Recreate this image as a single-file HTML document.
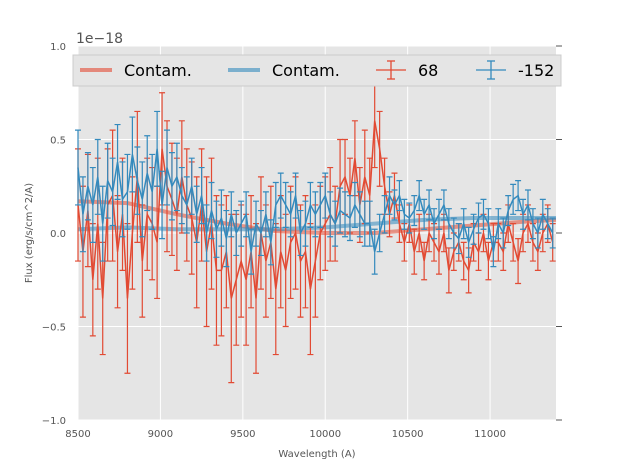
<!DOCTYPE html>
<html><head><meta charset="utf-8"><style>
body{margin:0;background:#fff;font-family:"DejaVu Sans",sans-serif;}
svg text{font-family:"DejaVu Sans",sans-serif;}
</style></head><body>
<svg id="chart" width="617" height="467" xmlns="http://www.w3.org/2000/svg">
<rect x="78" y="46" width="478" height="374" fill="#e5e5e5"/>
<g id="grid"></g><g id="marks"></g><g id="axes"></g>
<text x="76" y="43" font-size="14" fill="#555">1e−18</text>
<text x="317" y="457" font-size="10" fill="#555" text-anchor="middle">Wavelength (A)</text>
<text x="32" y="233" font-size="10" fill="#555" text-anchor="middle" transform="rotate(-90 32 233)">Flux (erg/s/cm^2/A)</text>
<g>
<rect x="73" y="55" width="488" height="31" fill="#e5e5e5" stroke="#ccc"/>
<line x1="80" y1="70" x2="112" y2="70" stroke="#E24A33" stroke-opacity="0.6" stroke-width="4"/>
<text x="124" y="76" font-size="16" fill="#000">Contam.</text>
<line x1="228" y1="70" x2="260" y2="70" stroke="#348ABD" stroke-opacity="0.6" stroke-width="4"/>
<text x="272" y="76" font-size="16" fill="#000">Contam.</text>
<g stroke="#E24A33" stroke-width="1.3"><line x1="376" y1="70" x2="406" y2="70"/><line x1="391" y1="61" x2="391" y2="79"/><line x1="387" y1="61" x2="395" y2="61"/><line x1="387" y1="79" x2="395" y2="79"/></g>
<text x="418" y="76" font-size="16" fill="#000">68</text>
<g stroke="#348ABD" stroke-width="1.3"><line x1="476" y1="70" x2="506" y2="70"/><line x1="491" y1="61" x2="491" y2="79"/><line x1="487" y1="61" x2="495" y2="61"/><line x1="487" y1="79" x2="495" y2="79"/></g>
<text x="518" y="76" font-size="16" fill="#000">-152</text>
</g>
</svg>
<script>
const wavelengths=[];for(let w=8500;w<=11380;w+=30)wavelengths.push(w);
const redValues=[0.15,-0.1,0.12,-0.25,0.05,-0.35,0.15,0.2,-0.1,0.1,-0.35,
0.0,0.3,-0.15,0.1,0.05,-0.05,0.45,0.25,0.18,0.1,
0.3,0.15,0.08,-0.05,0.15,-0.1,0.05,-0.2,-0.2,-0.1,
-0.35,-0.25,-0.15,-0.25,-0.1,-0.35,0.0,-0.15,-0.05,-0.3,
-0.1,-0.2,-0.05,0.0,-0.15,-0.1,-0.3,-0.15,0.0,0.05,
0.1,0.05,0.25,0.3,0.2,0.4,0.15,0.3,0.2,0.6,
0.45,0.25,0.1,0.2,0.05,-0.05,0.05,-0.1,0.0,-0.15,
0.0,-0.05,-0.1,0.0,-0.2,-0.1,-0.05,-0.15,-0.2,-0.05,
-0.1,0.0,-0.15,-0.05,-0.05,-0.1,0.05,-0.05,-0.15,0.0,
0.05,-0.05,-0.1,0.0,0.05,-0.05];
const redErrors=[0.3,0.35,0.3,0.3,0.35,0.3,0.3,0.35,0.3,0.3,0.4,
0.3,0.35,0.3,0.3,0.3,0.3,0.3,0.35,0.3,0.3,
0.3,0.3,0.3,0.35,0.3,0.4,0.35,0.4,0.35,0.3,
0.45,0.35,0.3,0.35,0.3,0.4,0.3,0.3,0.3,0.35,
0.3,0.3,0.3,0.3,0.3,0.3,0.35,0.3,0.25,0.25,
0.25,0.2,0.25,0.2,0.2,0.2,0.2,0.25,0.2,0.25,
0.2,0.15,0.12,0.12,0.1,0.1,0.1,0.12,0.1,0.1,
0.1,0.1,0.12,0.1,0.12,0.1,0.1,0.1,0.12,0.1,
0.1,0.1,0.1,0.1,0.1,0.1,0.1,0.1,0.12,0.1,
0.1,0.1,0.1,0.1,0.1,0.1];
const blueValues=[0.35,0.1,0.25,0.15,0.3,0.05,0.28,0.22,0.38,0.18,0.22,
0.42,0.28,0.18,0.32,0.22,0.45,0.15,0.35,0.25,0.3,
0.2,0.15,0.25,0.1,0.2,0.0,0.12,0.02,0.08,-0.03,
0.1,0.0,0.05,0.1,-0.1,0.05,0.0,0.1,-0.05,0.15,
0.2,0.15,0.1,0.2,0.0,0.05,0.15,0.1,0.15,0.2,
0.1,0.05,0.12,0.1,0.08,0.15,0.1,0.05,0.05,-0.1,
0.0,0.1,0.2,0.15,0.2,0.1,0.08,0.12,0.2,0.1,
0.15,0.05,0.1,0.15,0.05,0.0,-0.03,0.05,-0.05,0.02,
0.08,0.1,0.05,-0.1,0.05,0.0,0.12,0.18,0.2,0.1,
0.15,0.05,0.0,0.1,0.05,0.0];
const blueErrors=[0.2,0.2,0.18,0.2,0.2,0.2,0.2,0.18,0.2,0.2,0.2,
0.2,0.18,0.2,0.2,0.2,0.2,0.18,0.2,0.18,0.18,
0.15,0.15,0.15,0.15,0.15,0.15,0.15,0.15,0.15,0.15,
0.12,0.12,0.12,0.12,0.12,0.12,0.12,0.12,0.12,0.12,
0.12,0.12,0.12,0.12,0.12,0.12,0.12,0.12,0.12,0.12,
0.12,0.12,0.12,0.12,0.12,0.12,0.12,0.12,0.12,0.12,
0.1,0.1,0.1,0.08,0.08,0.08,0.08,0.08,0.08,0.08,
0.08,0.08,0.08,0.08,0.08,0.08,0.08,0.08,0.08,0.08,
0.08,0.08,0.08,0.08,0.08,0.08,0.08,0.08,0.08,0.08,
0.08,0.08,0.08,0.08,0.08,0.08];
const contamWave=[8500,8800,9100,9400,9700,10000,10300,10600,10900,11200,11400];
const contamRed=[0.17,0.16,0.1,0.05,0.01,0.0,0.0,0.02,0.04,0.06,0.07];
const contamBlue=[0.02,0.03,0.02,0.02,0.02,0.03,0.05,0.07,0.08,0.08,0.08];
const xTicks=[8500,9000,9500,10000,10500,11000];
const yTicks=[-1.0,-0.5,0.0,0.5,1.0];
const yTickLabels=["−1.0","−0.5","0.0","0.5","1.0"];

const NS="http://www.w3.org/2000/svg";
const X=w=>78+(w-8500)*(478/2900);
const Y=v=>233-v*187;
function mk(tag,attrs,parent){const e=document.createElementNS(NS,tag);for(const k in attrs)e.setAttribute(k,attrs[k]);parent.appendChild(e);return e;}
const grid=document.getElementById('grid'),marks=document.getElementById('marks'),axes=document.getElementById('axes');
xTicks.forEach(t=>{
 const g=mk('line',{x1:X(t),x2:X(t),y1:46,y2:420,stroke:'#fff','stroke-width':1},grid);
 
 const l=mk('text',{x:X(t),y:437,'font-size':10,fill:'#555','text-anchor':'middle'},axes);l.textContent=t;
 
});
yTicks.forEach((t,i)=>{
 const g=mk('line',{x1:78,x2:556,y1:Y(t),y2:Y(t),stroke:'#fff','stroke-width':1},grid);
 
 const k=mk('line',{x1:556,x2:562,y1:Y(t),y2:Y(t),stroke:'#555'},axes);
 
 const l=mk('text',{x:66,y:Y(t)+4,'font-size':10,fill:'#555','text-anchor':'end'},axes);l.textContent=yTickLabels[i];
 
});
function contam(arr,color,name){
 const p=mk('polyline',{points:contamWave.map((w,i)=>X(w)+','+Y(arr[i])).join(' '),fill:'none',stroke:color,'stroke-opacity':0.55,'stroke-width':4,'stroke-linejoin':'round'},marks);
 
}
function series(vals,errs,color,name){
 const g=mk('g',{stroke:color,'stroke-width':1.2},marks);
 
 wavelengths.forEach((w,i)=>{
  const x=X(w),y1=Y(vals[i]+errs[i]),y2=Y(vals[i]-errs[i]);
  const b=mk('path',{d:`M${x},${y1}V${y2}M${x-3},${y1}H${x+3}M${x-3},${y2}H${x+3}`,fill:'none'},g);
  
 });
 const p=mk('polyline',{points:wavelengths.map((w,i)=>X(w)+','+Y(vals[i])).join(' '),fill:'none','stroke-width':1.5},g);
 
}
contam(contamRed,'#E24A33','contam-red-line');
contam(contamBlue,'#348ABD','contam-blue-line');
series(redValues,redErrors,'#E24A33','series-68');
series(blueValues,blueErrors,'#348ABD','series-152');
</script>
</body></html>
